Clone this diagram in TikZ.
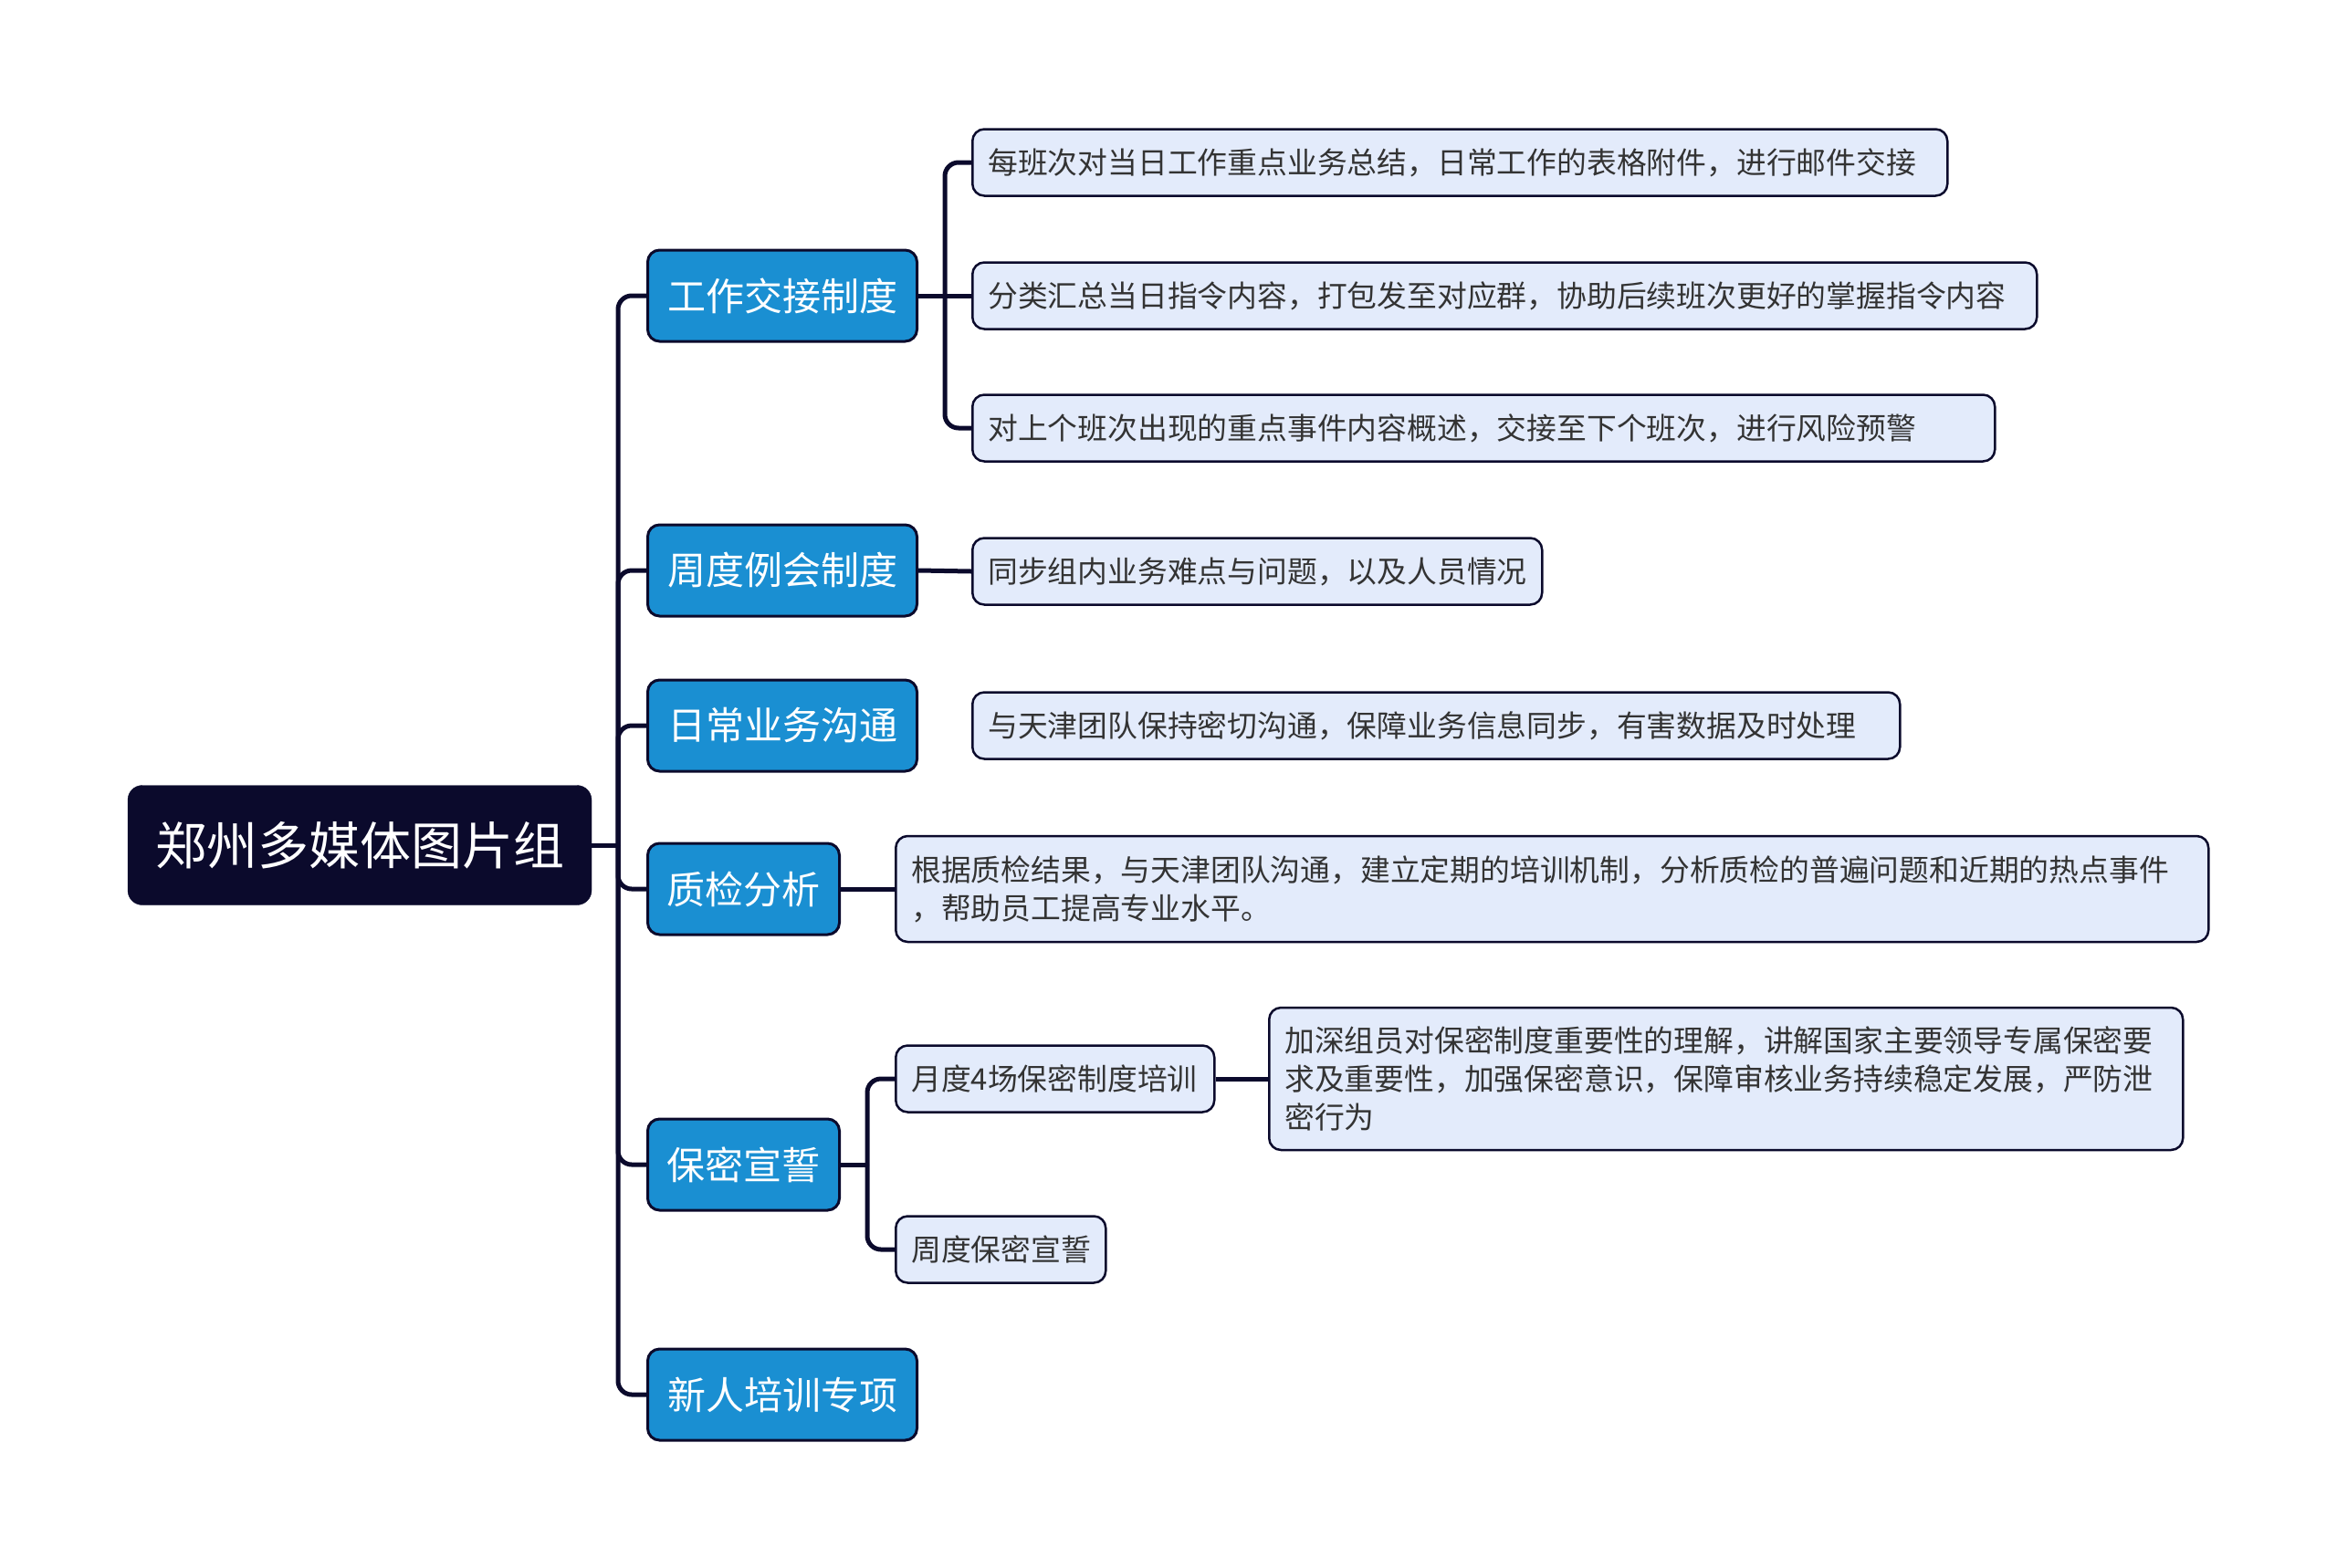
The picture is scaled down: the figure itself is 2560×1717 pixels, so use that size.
\documentclass[tikz,border=0pt]{standalone}
\usepackage{fontspec}
\setmainfont{Noto Sans CJK SC}
\usepackage{xcolor}
\usepackage{tikz}
\usetikzlibrary{positioning}
\definecolor{navy}{HTML}{0B0A2C}
\definecolor{topicblue}{HTML}{1A8FD2}
\definecolor{leafblue}{HTML}{E3EBFB}

\begin{document}
\begin{tikzpicture}[x=1pt, y=-1pt,
  rootbox/.style={rectangle, rounded corners=16pt, fill=navy, draw=navy, text=white,
                  font=\fontsize{56}{60}\selectfont, minimum width=508pt, minimum height=131pt, inner sep=0pt},
  topic/.style={rectangle, rounded corners=13pt, fill=topicblue, draw=navy, line width=3pt, text=white,
                font=\fontsize{42}{46}\selectfont, minimum height=100pt, inner sep=0pt, anchor=west},
  leaf/.style={rectangle, rounded corners=13pt, fill=leafblue, draw=navy, line width=2.5pt, text=black!80,
               font=\fontsize{32.8}{42}\selectfont, align=left, inner xsep=17pt, inner ysep=0pt,
               minimum height=73pt, anchor=west},
  link/.style={draw=navy, line width=5pt, rounded corners=15pt}
]
\useasboundingbox (0,0) rectangle (2560,1717);

% root and main topics
\node[rootbox] (root) at (394,926) {郑州多媒体图片组};
\node[topic, minimum width=295pt] (work)   at (708,324)  {工作交接制度};
\node[topic, minimum width=295pt] (meet)   at (708,625)  {周度例会制度};
\node[topic, minimum width=295pt] (daily)  at (708,795)  {日常业务沟通};
\node[topic, minimum width=210pt] (qc)     at (708,974)  {质检分析};
\node[topic, minimum width=210pt] (secret) at (708,1276) {保密宣誓};
\node[topic, minimum width=295pt] (newbie) at (708,1528) {新人培训专项};

% details
\node[leaf, text width=1034pt] (work1) at (1064,178) {每班次对当日工作重点业务总结，日常工作的表格附件，进行邮件交接};
\node[leaf, text width=1132pt] (work2) at (1064,324) {分类汇总当日指令内容，打包发至对应群，协助后续班次更好的掌握指令内容};
\node[leaf, text width=1086pt] (work3) at (1064,469) {对上个班次出现的重点事件内容概述，交接至下个班次，进行风险预警};
\node[leaf, text width=590pt]  (meet1) at (1064,626) {同步组内业务难点与问题，以及人员情况};
\node[leaf, text width=982pt]  (daily1) at (1064,795) {与天津团队保持密切沟通，保障业务信息同步，有害数据及时处理};
\node[leaf, text width=1404pt, minimum height=116pt] (qc1) at (980,974)
  {根据质检结果，与天津团队沟通，建立定期的培训机制，分析质检的普遍问题和近期的热点事件\\，帮助员工提高专业水平。};
\node[leaf, text width=315pt] (secret1) at (980,1182) {月度4场保密制度培训};
\node[leaf, text width=196pt] (secret2) at (980,1369) {周度保密宣誓};
\node[leaf, text width=967pt, minimum height=156pt] (secret1a) at (1389,1182)
  {加深组员对保密制度重要性的理解，讲解国家主要领导专属保密要\\求及重要性，加强保密意识，保障审核业务持续稳定发展，严防泄\\密行为};

% connectors
\coordinate (hub) at (677,926);
\draw[link] (root.east) -- (hub);
\foreach \t in {work,meet,daily,qc,secret,newbie}
  \draw[link] (hub) |- (\t.west);

\coordinate (workfork) at (1035,324);
\draw[link] (work.east) -- (work2.west);
\foreach \l in {work1,work3}
  \draw[link] (workfork) |- (\l.west);

\draw[link] (meet.east) -- (meet1.west);
\draw[link] (qc.east) -- (qc1.west);

\coordinate (secretfork) at (950,1276);
\draw[link] (secret.east) -- (secretfork);
\foreach \l in {secret1,secret2}
  \draw[link] (secretfork) |- (\l.west);
\draw[link] (secret1.east) -- (secret1a.west);
\end{tikzpicture}
\end{document}
